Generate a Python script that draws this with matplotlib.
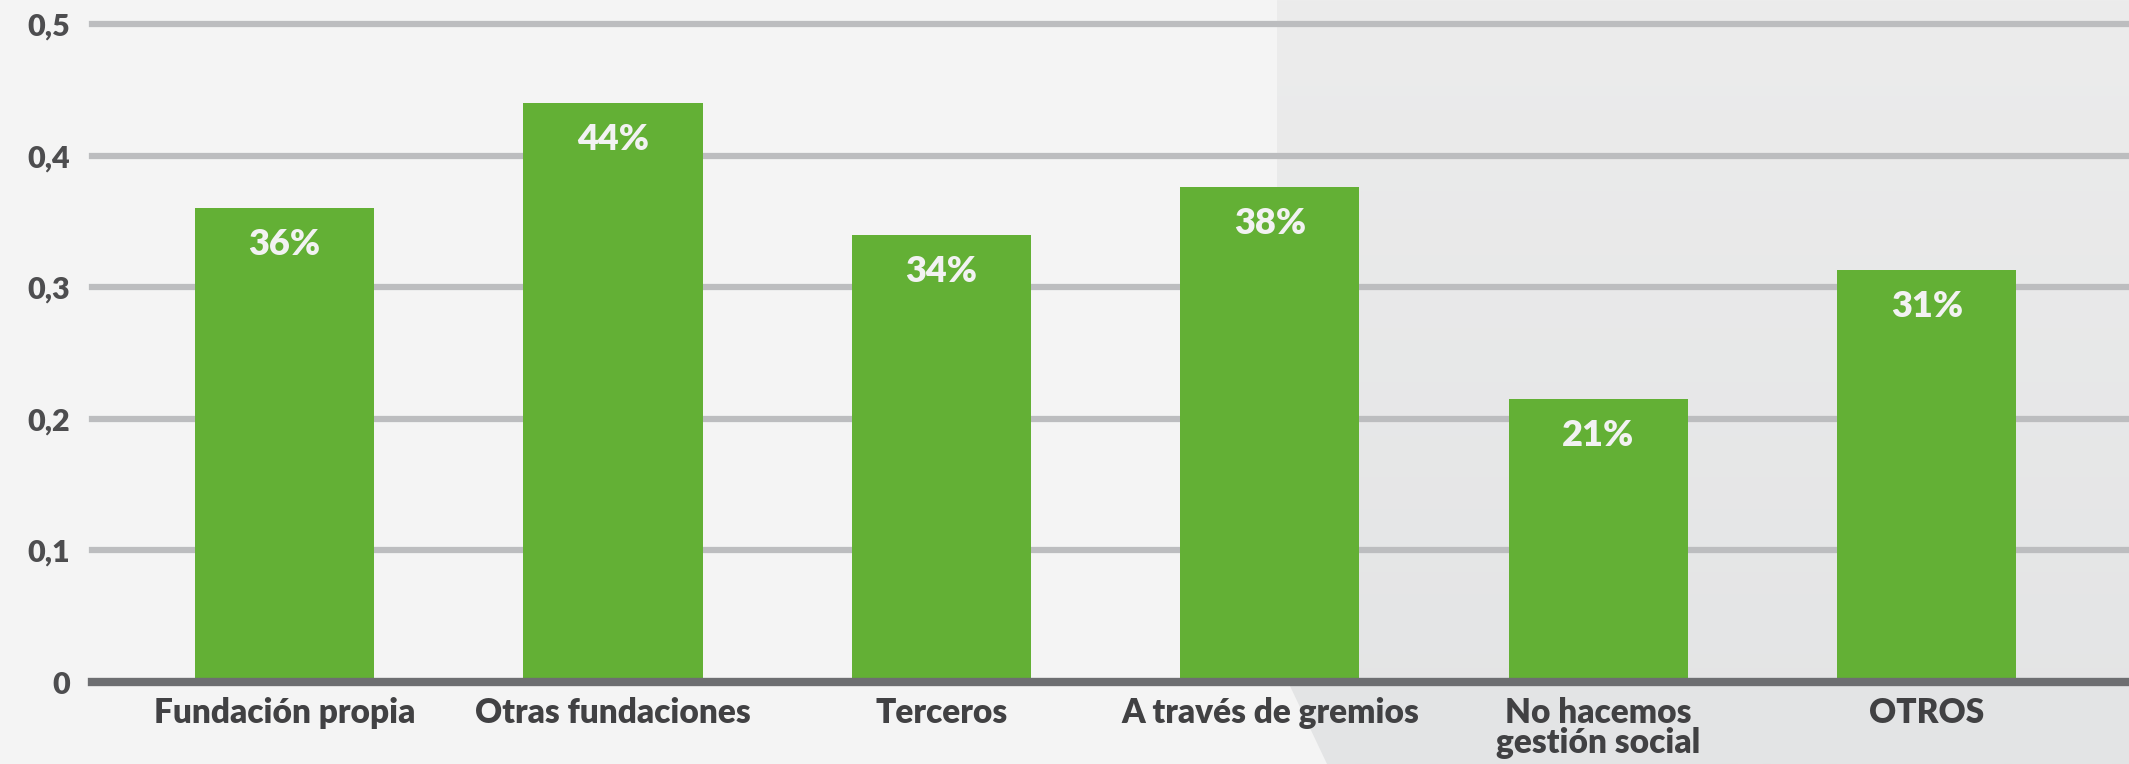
import matplotlib
matplotlib.use("Agg")
import matplotlib.pyplot as plt
import numpy as np
from matplotlib.patches import Polygon
from matplotlib.colors import LinearSegmentedColormap

categories = ["Fundación propia", "Otras fundaciones", "Terceros",
              "A través de gremios", "No hacemos\ngestión social", "OTROS"]
values = [0.36, 0.44, 0.34, 0.376, 0.215, 0.313]
labels = ["36%", "44%", "34%", "38%", "21%", "31%"]
yticks = [0, 0.1, 0.2, 0.3, 0.4, 0.5]
ytick_labels = ["0", "0,1", "0,2", "0,3", "0,4", "0,5"]

W, H = 2129, 764
DPI = 100
plt.rcParams['font.family'] = ['Lato', 'DejaVu Sans']

fig = plt.figure(figsize=(W / DPI, H / DPI), dpi=DPI)
fig.patch.set_facecolor("#f4f4f4")

# background darker region (right side) with vertical gradient
bg = fig.add_axes([0, 0, 1, 1], zorder=-10)
bg.set_xlim(0, W)
bg.set_ylim(H, 0)
bg.axis("off")
grad = np.linspace(0, 1, 256).reshape(-1, 1)
cmap = LinearSegmentedColormap.from_list("g", ["#ececec", "#e3e4e5"])
im = bg.imshow(grad, extent=[0, W, H, 0], aspect="auto", cmap=cmap)
poly = Polygon([(1277, 0), (W, 0), (W, H), (1327, H), (1290, 686), (1277, 686)],
               closed=True, transform=bg.transData, facecolor="none", edgecolor="none")
bg.add_patch(poly)
im.set_clip_path(poly)

ax = fig.add_axes([92 / W, 1 - 682 / H, 1 - 92 / W, (682 - 24) / H])
ax.set_facecolor("none")
x = np.arange(len(categories))
ax.set_xlim(-0.586, 5.615)
ax.set_ylim(0, 0.5)

for t in yticks[1:]:
    ax.axhline(t, color="#bcbdbf", lw=4.5, zorder=1, clip_on=False)

ax.bar(x, values, width=0.545, color="#63b035", zorder=2)
ax.axhline(0, color="#6d6e71", lw=6, zorder=3, clip_on=False)

for xi, v, lab in zip(x, values, labels):
    ax.annotate(lab, (xi, v), xytext=(0, -34), textcoords="offset points",
                ha="center", va="baseline", color="#f2f2f2",
                fontsize=26, fontweight="heavy", zorder=4)

for s in ax.spines.values():
    s.set_visible(False)
ax.set_yticks(yticks)
ax.set_yticklabels(ytick_labels)
ax.set_xticks(x)
ax.set_xticklabels(categories, linespacing=0.9)
ax.tick_params(axis="y", length=0, pad=16, labelsize=22, labelcolor="#4d4d4f")
ax.tick_params(axis="x", length=0, pad=11, labelsize=24, labelcolor="#414143")
for lab in ax.get_yticklabels() + ax.get_xticklabels():
    lab.set_fontweight("heavy")

fig.savefig("out.png", dpi=DPI, facecolor=fig.get_facecolor())
